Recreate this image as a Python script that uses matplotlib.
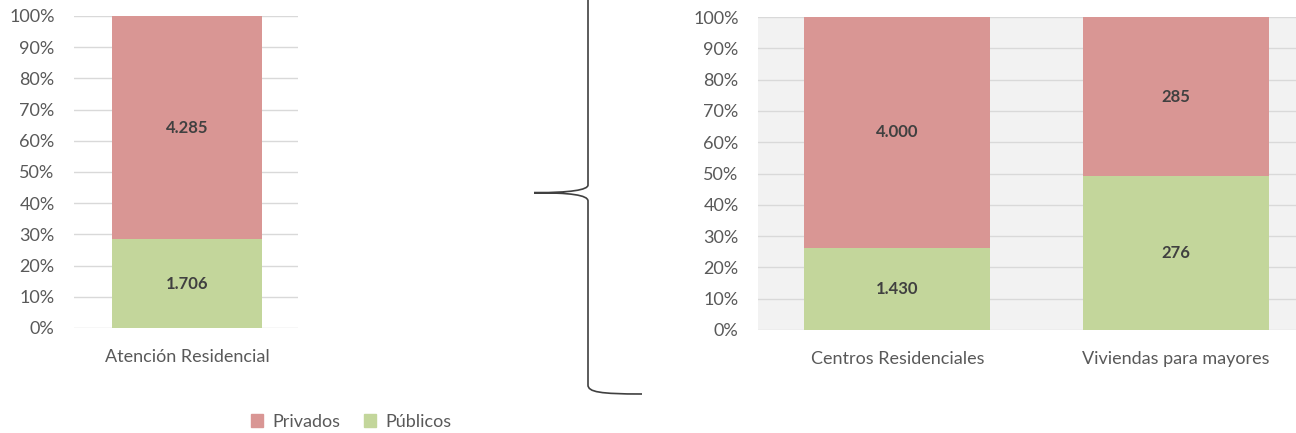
import matplotlib

matplotlib.use("Agg")
import matplotlib.pyplot as plt
from matplotlib.path import Path
from matplotlib.patches import PathPatch, Patch

plt.rcParams["font.family"] = ["Lato", "DejaVu Sans"]

W, H = 1296, 433

left_cats = ["Atención Residencial"]
left_publicos = [1706]
left_privados = [4285]

right_cats = ["Centros Residenciales", "Viviendas para mayores"]
right_publicos = [1430, 276]
right_privados = [4000, 285]

C_PRIV = "#D99694"
C_PUB = "#C3D69B"
C_TXT = "#595959"
C_LBL = "#404040"
C_GRID = "#D9D9D9"


def fmt(v):
    return f"{v:,}".replace(",", ".")


def stacked(ax, cats, pub, priv, width):
    x = list(range(len(cats)))
    tot = [a + b for a, b in zip(pub, priv)]
    pub_p = [a / t * 100 for a, t in zip(pub, tot)]
    priv_p = [b / t * 100 for b, t in zip(priv, tot)]
    ax.bar(x, pub_p, width, color=C_PUB, zorder=3)
    ax.bar(x, priv_p, width, bottom=pub_p, color=C_PRIV, zorder=3)
    for i in x:
        ax.text(i, pub_p[i] / 2, fmt(pub[i]), ha="center", va="center",
                fontsize=12, fontweight="bold", color=C_LBL, zorder=4)
        ax.text(i, pub_p[i] + priv_p[i] / 2, fmt(priv[i]), ha="center", va="center",
                fontsize=12, fontweight="bold", color=C_LBL, zorder=4)
    ax.set_ylim(0, 100)
    ax.set_yticks(range(0, 101, 10))
    ax.set_yticklabels([f"{v}%" for v in range(0, 101, 10)])
    ax.set_xticks(x)
    ax.set_xticklabels(cats)
    ax.tick_params(axis="both", length=0, labelsize=13, colors=C_TXT)
    ax.tick_params(axis="y", pad=14)
    ax.tick_params(axis="x", pad=15)
    ax.yaxis.grid(True, color=C_GRID, lw=1, zorder=0)
    for s in ax.spines.values():
        s.set_visible(False)


fig = plt.figure(figsize=(W / 100, H / 100), dpi=100)

ax1 = fig.add_axes([74 / W, 1 - 328 / H, 224 / W, 312 / H])
stacked(ax1, left_cats, left_publicos, left_privados, 1.0)
ax1.set_xlim(-0.753, 0.74)

ax2 = fig.add_axes([758 / W, 1 - 330 / H, 538 / W, 313 / H])
ax2.set_facecolor("#F2F2F2")
stacked(ax2, right_cats, right_publicos, right_privados, 0.667)
ax2.set_xlim(-0.5, 1.43)


# llave entre paneles (coordenadas en pixeles)
def px(x, y):
    return (x / W, 1 - y / H)


verts = [px(588, -5), px(588, 185), px(588, 190), px(570, 192.7), px(534, 192.7),
         px(570, 192.7), px(588, 195), px(588, 201), px(588, 385),
         px(588, 392), px(600, 394), px(642, 394)]
codes = [Path.MOVETO, Path.LINETO, Path.CURVE4, Path.CURVE4, Path.CURVE4,
         Path.CURVE4, Path.CURVE4, Path.CURVE4, Path.LINETO,
         Path.CURVE4, Path.CURVE4, Path.CURVE4]
fig.patches.append(PathPatch(Path(verts, codes), transform=fig.transFigure,
                             fill=False, edgecolor="#404040", lw=1.2))

handles = [Patch(color=C_PRIV, label="Privados"), Patch(color=C_PUB, label="Públicos")]
leg = fig.legend(handles=handles, loc="center", bbox_to_anchor=(351 / W, 1 - 422 / H),
                 ncol=2, frameon=False, fontsize=13, handlelength=0.7, handleheight=0.7,
                 columnspacing=1.3, handletextpad=0.5)
for t in leg.get_texts():
    t.set_color(C_TXT)

fig.savefig("out.png", dpi=100)
